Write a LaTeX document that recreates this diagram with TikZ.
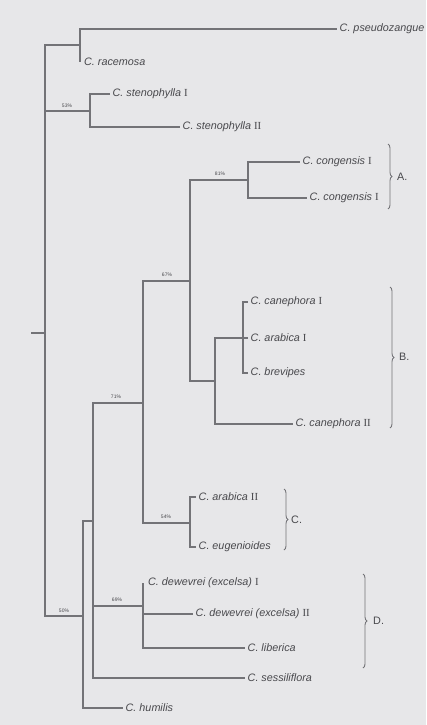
\documentclass[tikz,border=0pt]{standalone}
\usepackage{fontspec}
\setmainfont{Liberation Sans}
\newfontfamily\numfont{Liberation Serif}
\usetikzlibrary{decorations.pathreplacing}
\definecolor{bg}{RGB}{231,231,233}
\definecolor{ln}{RGB}{115,115,119}
\definecolor{tx}{RGB}{72,72,76}
\newcommand\rnum[1]{{\numfont\upshape #1}}
\begin{document}
\begin{tikzpicture}[x=1pt,y=-1pt,
  br/.style={draw=ln,line width=1.15pt},
  leaf/.style={anchor=west,inner xsep=2.5pt,inner ysep=0pt,text=tx,font=\fontsize{10.8}{12}\selectfont\itshape},
  pct/.style={text=tx,font=\fontsize{5}{6}\selectfont,inner sep=0pt},
  grp/.style={anchor=west,text=tx,font=\fontsize{10.8}{12}\selectfont,inner sep=0pt},
  grpbrace/.style={draw=ln,line width=0.9pt,decorate,decoration={brace,amplitude=4pt}}]
\fill[bg] (0,0) rectangle (426,725);
\useasboundingbox (0,0) rectangle (426,725);

% inner nodes
\coordinate (rs) at (31,333);
\coordinate (r) at (45,333);
\coordinate (t) at (80,45);
\coordinate (s53) at (90,111);
\coordinate (n50) at (83,616);
\coordinate (m) at (93,521);
\coordinate (a) at (143,403);
\coordinate (n67) at (190,281);
\coordinate (n81) at (248,180);
\coordinate (b) at (215,381);
\coordinate (p) at (243,338);
\coordinate (n54) at (190,523);
\coordinate (d) at (143,606);

% leaves
\node[leaf] (pseudo) at (337,29) {C. pseudozangue};
\node[leaf,inner xsep=4pt] (race) at (80,62) {C. racemosa};
\node[leaf] (sten1) at (110,94) {C. stenophylla \rnum{I}};
\node[leaf] (sten2) at (180,127) {C. stenophylla \rnum{II}};
\node[leaf] (cong1) at (300,162) {C. congensis \rnum{I}};
\node[leaf] (cong2) at (307,198) {C. congensis \rnum{I}};
\node[leaf] (cane1) at (248,302) {C. canephora \rnum{I}};
\node[leaf] (arab1) at (248,338) {C. arabica \rnum{I}};
\node[leaf] (brev) at (248,373) {C. brevipes};
\node[leaf] (cane2) at (293,424) {C. canephora \rnum{II}};
\node[leaf] (arab2) at (196,497) {C. arabica \rnum{II}};
\node[leaf] (eug) at (196,547) {C. eugenioides};
\node[leaf,inner xsep=5pt] (dew1) at (143,583) {C. dewevrei (excelsa) \rnum{I}};
\node[leaf] (dew2) at (193,614) {C. dewevrei (excelsa) \rnum{II}};
\node[leaf] (lib) at (245,648) {C. liberica};
\node[leaf] (sess) at (245,678) {C. sessiliflora};
\node[leaf] (hum) at (123,708) {C. humilis};

% branches
\draw[br] (rs) -- (r);
\draw[br] (r) |- (t);
\draw[br] (r) |- (s53);
\draw[br] (r) |- (n50);
\draw[br] (t) |- (pseudo.west);
\draw[br] (t) -- (race.west);
\draw[br] (s53) |- (sten1.west);
\draw[br] (s53) |- (sten2.west);
\draw[br] (n50) |- (m);
\draw[br] (n50) |- (hum.west);
\draw[br] (m) |- (a);
\draw[br] (m) |- (d);
\draw[br] (m) |- (sess.west);
\draw[br] (a) |- (n67);
\draw[br] (a) |- (n54);
\draw[br] (n67) |- (n81);
\draw[br] (n67) |- (b);
\draw[br] (n81) |- (cong1.west);
\draw[br] (n81) |- (cong2.west);
\draw[br] (b) |- (p);
\draw[br] (b) |- (cane2.west);
\draw[br] (p) |- (cane1.west);
\draw[br] (p) -- (arab1.west);
\draw[br] (p) |- (brev.west);
\draw[br] (n54) |- (arab2.west);
\draw[br] (n54) |- (eug.west);
\draw[br] (d) |- (dew1.west);
\draw[br] (d) |- (dew2.west);
\draw[br] (d) |- (lib.west);

% support values
\node[pct] (p53) at (67,106) {53\%};
\node[pct] (p81) at (220,174) {81\%};
\node[pct] (p67) at (167,275) {67\%};
\node[pct] (p71) at (116,397) {71\%};
\node[pct] (p54) at (166,517) {54\%};
\node[pct] (p69) at (117,600) {69\%};
\node[pct] (p50) at (64,611) {50\%};

% groups
\coordinate (ga1) at (388,144); \coordinate (ga2) at (388,209);
\coordinate (gb1) at (390,287); \coordinate (gb2) at (390,428);
\coordinate (gc1) at (284,489); \coordinate (gc2) at (284,550);
\coordinate (gd1) at (363,574); \coordinate (gd2) at (363,668);
\draw[grpbrace] (ga1) -- (ga2);
\draw[grpbrace] (gb1) -- (gb2);
\draw[grpbrace] (gc1) -- (gc2);
\draw[grpbrace] (gd1) -- (gd2);
\node[grp] (la) at (397,177) {A.};
\node[grp] (lb) at (399,357) {B.};
\node[grp] (lc) at (291,520) {C.};
\node[grp] (ld) at (373,621) {D.};
\end{tikzpicture}
\end{document}
